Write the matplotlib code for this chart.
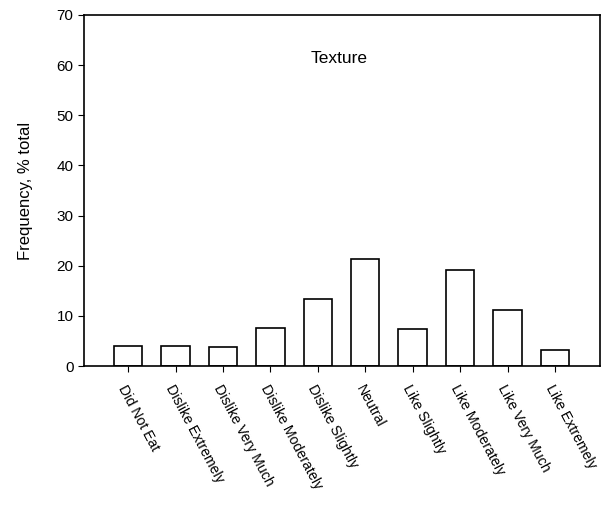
import matplotlib
matplotlib.use('Agg')
import matplotlib.pyplot as plt

plt.rcParams['font.family'] = ['Liberation Sans', 'DejaVu Sans']

categories = ['Did Not Eat', 'Dislike Extremely', 'Dislike Very Much',
              'Dislike Moderately', 'Dislike Slightly', 'Neutral',
              'Like Slightly', 'Like Moderately', 'Like Very Much',
              'Like Extremely']
frequency = [4.0, 3.9, 3.7, 7.5, 13.4, 21.3, 7.4, 19.2, 11.1, 3.2]

fig = plt.figure(figsize=(6.05, 5.13), dpi=100)
ax = fig.add_axes([84/605, 1 - 366/513, (600-84)/605, (366-15)/513])

x = list(range(len(categories)))
ax.bar(x, frequency, width=0.6, color='white', edgecolor='black', linewidth=1.2)

ax.set_xlim(-0.93, 9.95)
ax.set_ylim(0, 70)
ax.set_yticks(range(0, 71, 10))
ax.set_xticks(x)
ax.set_xticklabels(categories, rotation=-62, ha='left', va='top',
                   rotation_mode='anchor', fontsize=10.2)
ax.tick_params(axis='y', labelsize=11, length=4, direction='out')
ax.tick_params(axis='x', length=4, direction='out', pad=8)
for s in ax.spines.values():
    s.set_linewidth(1.2)

ax.set_ylabel('Frequency, % total', fontsize=12, labelpad=17)
ax.text(0.495, 0.875, 'Texture', transform=ax.transAxes, ha='center',
        va='center', fontsize=12.5)

fig.savefig('out.png', dpi=100)
